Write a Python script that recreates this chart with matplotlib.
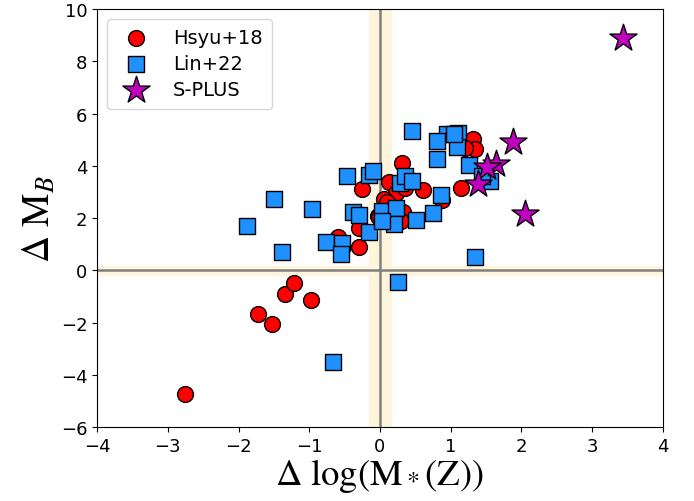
import numpy as np
import matplotlib
matplotlib.use("Agg")
import matplotlib.pyplot as plt
matplotlib.rcParams['mathtext.fontset'] = 'stix'

# Hsyu+18
hsyu_x = [-2.76, -1.73, -1.52, -1.34, -1.22, -0.98, -0.30, -0.30, -0.60,
          0.31, 0.13, -0.26, 0.23, 0.36, 0.61, 0.06, 1.15, 1.32, 1.35, 1.20,
          0.88, 0.28, 0.32, -0.03, 0.30, -0.01, 0.10, 0.20]
hsyu_y = [-4.73, -1.67, -2.05, -0.90, -0.48, -1.13, 0.91, 1.64, 1.26,
          4.12, 3.38, 3.11, 2.98, 3.15, 3.08, 2.73, 3.15, 5.03, 4.64, 4.67,
          2.70, 2.15, 2.22, 2.09, 1.90, 2.05, 2.60, 2.00]

# Lin+22
lin_x = [0.45, 0.95, 1.11, 0.81, 1.09, 0.81, 1.26, 1.55, -0.46, -0.15, -0.10,
         0.28, 0.36, 0.46, 0.86, -0.96, -0.38, -0.29, 0.03, 0.23, 0.20, 0.51,
         0.75, -0.16, 0.03, -0.76, -0.53, -0.55, 1.34, 0.25, -1.88, -1.50,
         -1.39, -0.66, 1.05, 1.45]
lin_y = [5.32, 5.22, 5.26, 4.95, 4.71, 4.26, 4.03, 3.43, 3.63, 3.66, 3.79,
         3.36, 3.62, 3.43, 2.88, 2.34, 2.22, 2.13, 2.28, 2.37, 1.79, 1.92,
         2.19, 1.48, 1.90, 1.07, 1.03, 0.62, 0.53, -0.43, 1.70, 2.73,
         0.71, -3.52, 5.20, 3.60]

# S-PLUS
splus_x = [3.44, 1.88, 1.64, 1.51, 1.38, 2.05]
splus_y = [8.91, 4.90, 4.09, 3.94, 3.30, 2.15]

fig, ax = plt.subplots(figsize=[6.94, 5.02], dpi=100)
fig.subplots_adjust(left=0.14, right=0.955, top=0.98, bottom=0.147)

ax.axvspan(-0.15, 0.15, color='#fff5dc', zorder=0)
ax.axhspan(-0.18, 0.18, color='#fff5dc', zorder=0)
ax.axvline(0, color='gray', lw=1.8, zorder=1)
ax.axhline(0, color='gray', lw=1.8, zorder=1)

ax.scatter(hsyu_x, hsyu_y, s=130, marker='o', color='red', edgecolor='k',
           lw=1, label='Hsyu+18', zorder=2)
ax.scatter(lin_x, lin_y, s=125, marker='s', color='#1e90ff', edgecolor='k',
           lw=1, label='Lin+22', zorder=3)
ax.scatter(splus_x, splus_y, s=420, marker='*', color='m', edgecolor='k',
           lw=1, label='S-PLUS', zorder=4)

ax.set_xlim([-4, 4])
ax.set_ylim([-6, 10])
ax.set_xticks([-4, -3, -2, -1, 0, 1, 2, 3, 4])
ax.set_yticks([-6, -4, -2, 0, 2, 4, 6, 8, 10])
ax.tick_params(labelsize=13)
ax.set_xlabel(r'$\Delta\ \log(\mathrm{M}_*(\mathrm{Z}))$', fontsize=26.5, labelpad=1)
ax.set_ylabel(r'$\Delta\ \mathrm{M}_B$', fontsize=27, labelpad=2)
ax.legend(loc='upper left', fontsize=14, labelspacing=0.35, handletextpad=0.9,
          borderpad=0.5)
fig.savefig('out.png', dpi=100)
